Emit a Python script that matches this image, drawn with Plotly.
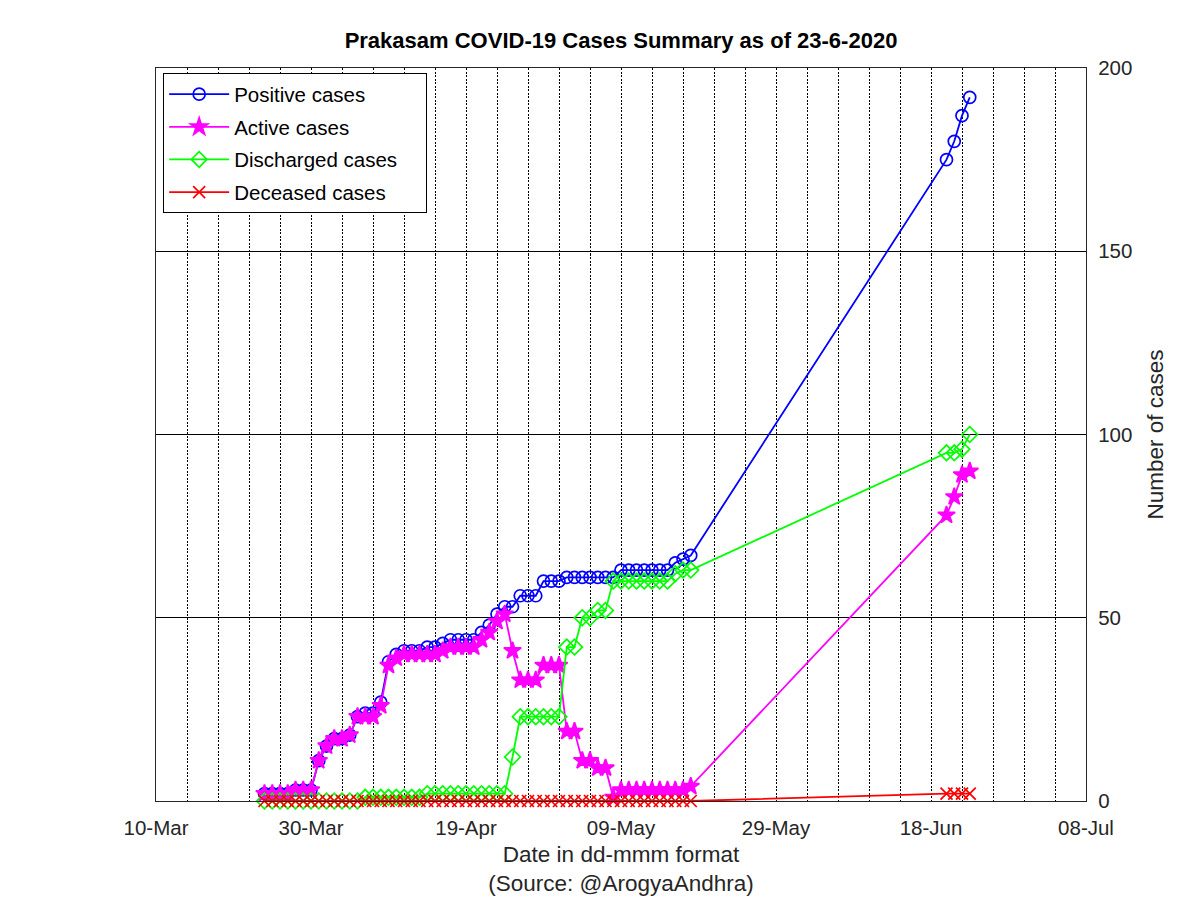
import pandas as pd
import plotly.graph_objects as go

# ---------------- data ----------------
daily_dates = list(pd.date_range("2020-03-24", "2020-05-18").strftime("%Y-%m-%d"))
june_dates = ["2020-06-20", "2020-06-21", "2020-06-22", "2020-06-23"]
dates = daily_dates + june_dates

positive = [2, 2, 2, 2, 3, 3, 3, 11, 15, 17, 17, 18, 23, 24, 24, 27,
            38, 40, 41, 41, 41, 42, 42, 43, 44, 44, 44, 44, 46, 48, 51, 53,
            53, 56, 56, 56, 60, 60, 60, 61, 61, 61, 61, 61, 61, 61,
            63, 63, 63, 63, 63, 63, 63, 65, 66, 67,
            175, 180, 187, 192]

active = [2, 2, 2, 2, 3, 3, 3, 11, 15, 17, 17, 18, 23, 23, 23, 26,
          37, 39, 40, 40, 40, 40, 40, 41, 42, 42, 42, 42, 44, 46, 49, 51,
          41, 33, 33, 33, 37, 37, 37, 19, 19, 11, 11, 9, 9, 1,
          3, 3, 3, 3, 3, 3, 3, 3, 3, 4,
          78, 83, 89, 90]

discharged = [0, 0, 0, 0, 0, 0, 0, 0, 0, 0, 0, 0, 0, 1, 1, 1,
              1, 1, 1, 1, 1, 2, 2, 2, 2, 2, 2, 2, 2, 2, 2, 2,
              12, 23, 23, 23, 23, 23, 23, 42, 42, 50, 50, 52, 52, 60,
              60, 60, 60, 60, 60, 60, 60, 62, 63, 63,
              95, 95, 96, 100]

deceased = [0] * 56 + [2, 2, 2, 2]

tick_vals = ["2020-03-10", "2020-03-30", "2020-04-19", "2020-05-09",
             "2020-05-29", "2020-06-18", "2020-07-08"]
tick_text = ["10-Mar", "30-Mar", "19-Apr", "09-May", "29-May", "18-Jun", "08-Jul"]

y_ticks = [0, 50, 100, 150, 200]

# ---------------- figure ----------------
FONT = "Liberation Sans, Arial, Helvetica, sans-serif"
NB = "\u00a0"
fig = go.Figure()

series = [
    ("Positive cases", positive, "#0000ff", "circle-open", 12),
    ("Active cases", active, "#ff00ff", "star", 13),
    ("Discharged cases" + NB * 4, discharged, "#00ff00", "diamond-open", 12),
    ("Deceased cases", deceased, "#ff0000", "x-thin", 12),
]
for i, (name, vals, col, sym, sz) in enumerate(series):
    fig.add_trace(go.Scatter(
        x=dates, y=vals, name=name, mode="lines+markers",
        line=dict(color=col, width=1.8),
        marker=dict(symbol=sym, size=sz, color=col,
                    line=dict(color=col, width=1.7)),
        cliponaxis=False, legendgroup=f"g{i}",
    ))

fig.update_layout(
    width=1200, height=898,
    margin=dict(l=156, r=114, t=68, b=97, autoexpand=False),
    plot_bgcolor="white", paper_bgcolor="white",
    font=dict(family=FONT, color="#262626"),
    title=dict(text="<b>Prakasam COVID-19 Cases Summary as of 23-6-2020</b>",
               x=0.5, xref="paper", xanchor="center",
               y=1 - 40 / 898, yref="container", yanchor="middle",
               font=dict(size=22, color="#000000", family=FONT)),
    showlegend=True,
    legend=dict(x=0.0075, y=0.993, xanchor="left", yanchor="top",
                bgcolor="white", bordercolor="#000000", borderwidth=1.2,
                font=dict(size=20.5, color="#000000", family=FONT),
                itemwidth=60, tracegroupgap=3, traceorder="grouped"),
)

fig.update_xaxes(
    type="date", range=["2020-03-10", "2020-07-08"], automargin=False,
    tickmode="array", tickvals=tick_vals, ticktext=tick_text,
    showgrid=True, gridcolor="#000000", griddash="2px,1.5px", gridwidth=1.4,
    minor=dict(tickmode="linear", tick0="2020-03-10", dtick=4 * 86400000,
               showgrid=True, gridcolor="#000000", griddash="2px,1.5px",
               gridwidth=1.4, ticks=""),
    showline=True, linecolor="#262626", linewidth=1.2, mirror=True,
    zeroline=False, ticks="", ticklabelstandoff=8,
    tickfont=dict(size=20.5, color="#262626"),
    title=dict(text="Date in dd-mmm format<br>(Source: @ArogyaAndhra)",
               font=dict(size=22.5, color="#262626"), standoff=8),
)

fig.update_yaxes(
    side="right", range=[0, 200], tickmode="array", tickvals=y_ticks,
    automargin=False,
    showgrid=True, gridcolor="#000000", gridwidth=1.2,
    showline=True, linecolor="#262626", linewidth=1.2, mirror=True,
    zeroline=False, ticks="", ticklabelstandoff=7,
    tickfont=dict(size=20.5, color="#262626"),
    title=dict(text="Number of cases", font=dict(size=22.5, color="#262626"),
               standoff=15),
)

fig.write_html("out.html", config={"displayModeBar": False},
               post_script="document.body.style.margin='0';")
